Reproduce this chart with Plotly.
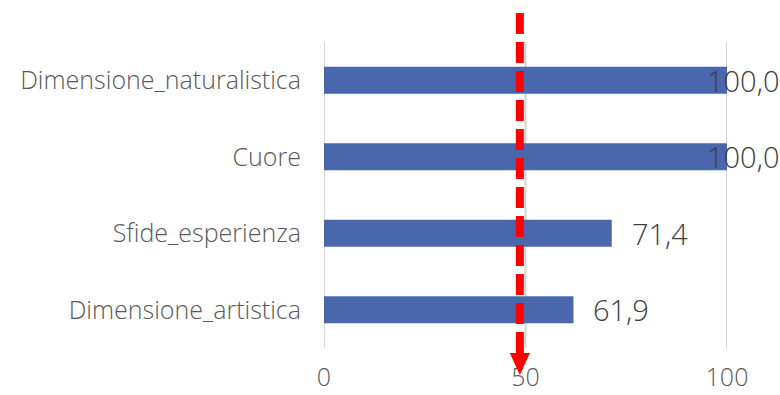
import plotly.graph_objects as go

# Categories listed top to bottom
categories = ["Dimensione_naturalistica", "Cuore", "Sfide_esperienza", "Dimensione_artistica"]
values = [100.0, 100.0, 71.4, 61.9]
x_ticks = [0, 50, 100]
threshold = 48.6

BAR_COLOR = "#4A66AC"
GRID_COLOR = "#D6D6D6"
FONT = "Open Sans"

labels = [f"{v:.1f}".replace(".", ",") for v in values]

fig = go.Figure()
fig.add_trace(go.Bar(
    x=values,
    y=categories,
    orientation="h",
    marker=dict(color=BAR_COLOR, line=dict(width=0)),
    width=0.35,
    hoverinfo="skip",
))

# Vertical gridlines at each tick, drawn beneath the bars
for t in x_ticks:
    fig.add_shape(
        type="line", xref="x", yref="paper",
        x0=t, x1=t, y0=0, y1=1,
        line=dict(color=GRID_COLOR, width=2),
        layer="below",
    )

# Value labels beside the bar ends (pulled back inside when the bar fills the axis)
for cat, v, t in zip(categories, values, labels):
    full = v >= 95
    fig.add_annotation(
        x=v, y=cat, xref="x", yref="y",
        text=t, showarrow=False,
        xanchor="left",
        xshift=-22 if full else 18,
        font=dict(family=FONT, size=29, color="#404040", weight=300),
    )

# Dashed red reference line with a downward arrowhead
fig.add_shape(
    type="line", xref="x", yref="paper",
    x0=threshold, x1=threshold, y0=1.095, y1=-0.02,
    line=dict(color="#FF0000", width=8, dash="21px,8px"),
)
fig.add_shape(
    type="path", xref="x", yref="paper",
    path=f"M {threshold - 2.5} -0.016 L {threshold + 2.5} -0.016 L {threshold} -0.088 Z",
    fillcolor="#FF0000", line=dict(width=0),
)

fig.update_layout(
    width=780, height=395,
    margin=dict(l=324, r=53, t=42, b=47, autoexpand=False),
    paper_bgcolor="white",
    plot_bgcolor="white",
    showlegend=False,
    xaxis=dict(
        range=[0, 100],
        tickvals=x_ticks,
        ticktext=[str(t) for t in x_ticks],
        showgrid=False,
        zeroline=False, showline=False,
        ticks="", ticklabelstandoff=12,
        automargin=False,
        tickfont=dict(family=FONT, size=25, color="#595959", weight=300),
        fixedrange=True,
    ),
    yaxis=dict(
        categoryorder="array",
        categoryarray=categories[::-1],
        showgrid=False, zeroline=False, showline=False,
        ticks="", ticklabelstandoff=22,
        automargin=False,
        tickfont=dict(family=FONT, size=25, color="#595959", weight=300),
        fixedrange=True,
    ),
)

fig.write_html("out.html")
